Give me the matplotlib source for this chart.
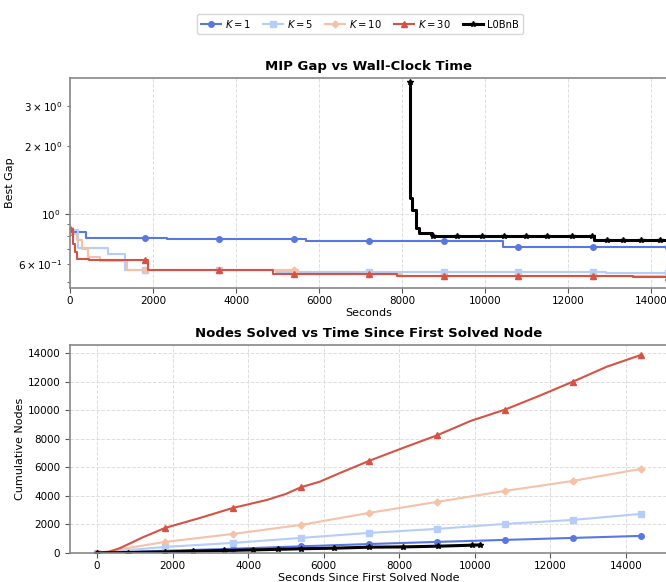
import numpy as np
import matplotlib
matplotlib.use("Agg")
import matplotlib.pyplot as plt

# ---- MIP gap (step curves), change points
k1_t = [0, 385, 2335, 5683, 10419, 14400]
k1_gap = [0.832, 0.783, 0.776, 0.763, 0.718, 0.718]
k5_t = [0, 200, 915, 1325, 4950, 12900, 14400]
k5_gap = [0.85, 0.706, 0.665, 0.566, 0.557, 0.552, 0.552]
k10_t = [0, 60, 170, 290, 435, 720, 1365, 5500, 8000, 14400]
k10_gap = [0.86, 0.82, 0.768, 0.70, 0.645, 0.623, 0.566, 0.545, 0.535, 0.535]
k30_t = [0, 65, 120, 175, 450, 1880, 4900, 7870, 13560, 14400]
k30_gap = [0.86, 0.742, 0.68, 0.637, 0.626, 0.566, 0.543, 0.535, 0.530, 0.530]
l0_t = [8187, 8195, 8242, 8324, 8403, 8723, 12620, 14400]
l0_gap = [3.82, 1.173, 1.041, 0.870, 0.827, 0.800, 0.768, 0.768]

k_mark_t = [0, 1800, 3600, 5400, 7200, 9000, 10800, 12600, 14400]
l0_mark_t = [8187, 8741, 9311, 9928, 10450, 10973, 11493, 12080, 12561,
             12922, 13307, 13749, 14206]

# ---- cumulative nodes since first solved node
k1_nt = [0, 1800, 3600, 5400, 7200, 9000, 10800, 12600, 14400]
k1_nodes = [0, 150, 290, 460, 620, 770, 910, 1050, 1190]
k5_nt = [0, 1800, 3600, 5400, 7200, 9000, 10800, 12600, 14400]
k5_nodes = [0, 420, 700, 1050, 1400, 1680, 2030, 2310, 2730]
k10_nt = [0, 900, 1800, 3600, 5400, 7200, 9000, 10800, 12600, 14400]
k10_nodes = [0, 380, 770, 1330, 1960, 2800, 3570, 4340, 5040, 5880]
k30_nt = [0, 300, 600, 900, 1200, 1800, 2700, 3600, 4500, 5000, 5400, 5900,
          6400, 7200, 8100, 9000, 9900, 10800, 11700, 12600, 13500, 14400]
k30_nodes = [0, 60, 330, 700, 1080, 1750, 2430, 3150, 3710, 4130, 4600, 4990,
             5560, 6440, 7350, 8230, 9250, 10030, 10990, 11990, 13040, 13860]
l0_nt = [0, 814, 1790, 2543, 3367, 4138, 4803, 5399, 6280, 7200, 8100, 9030,
         9930, 10150]
l0_nodes = [0, 25, 70, 120, 170, 210, 250, 290, 330, 400, 420, 470, 540, 560]

labels = ['$K = 1$', '$K = 5$', '$K = 10$', '$K = 30$', 'L0BnB']
colors = list(plt.cm.coolwarm(np.linspace(0.1, 0.9, 4))) + ['black']
markers = ['o', 's', 'D', '^', '*']

plt.rcParams['font.size'] = 8
plt.rcParams['xtick.labelsize'] = 7.5
plt.rcParams['ytick.labelsize'] = 7.5
plt.rcParams['xtick.major.pad'] = 2.5
plt.rcParams['axes.edgecolor'] = '#888888'
plt.rcParams['xtick.color'] = '#555555'
plt.rcParams['ytick.color'] = '#555555'
plt.rcParams['xtick.labelcolor'] = 'black'
plt.rcParams['ytick.labelcolor'] = 'black'


def with_marks(t, v, mark_t):
    # add the marker times to a step series so markevery can hit them
    t = np.asarray(t, float)
    v = np.asarray(v, float)
    tt = np.union1d(t, mark_t)
    vv = v[np.searchsorted(t, tt, side='right') - 1]
    idx = [i for i, x in enumerate(tt) if x in mark_t]
    return tt, vv, idx


fig = plt.figure(figsize=(6.66, 5.82), dpi=100)
ax1 = fig.add_axes([0.105, 0.505, 0.898, 0.361])
ax2 = fig.add_axes([0.105, 0.050, 0.898, 0.357])

gap_series = [(k1_t, k1_gap, k_mark_t), (k5_t, k5_gap, k_mark_t),
              (k10_t, k10_gap, k_mark_t), (k30_t, k30_gap, k_mark_t),
              (l0_t, l0_gap, l0_mark_t)]
for i, (t, g, mt) in enumerate(gap_series):
    tt, vv, idx = with_marks(t, g, mt)
    lw = 2.2 if i == 4 else 1.5
    ax1.plot(tt, vv, drawstyle='steps-post', color=colors[i], lw=lw,
             marker=markers[i], markersize=4 if i != 2 else 3.5,
             markevery=idx, label=labels[i])

ax1.set_yscale('log')
ax1.set_xlim(0, 14400)
ax1.set_ylim(0.472, 3.98)
ax1.set_title('MIP Gap vs Wall-Clock Time', fontweight='bold', fontsize=9.5)
ax1.set_xlabel('Seconds', labelpad=1)
ax1.set_ylabel('Best Gap', labelpad=2)
ax1.grid(True, which='major', ls='--', color='#dddddd', lw=0.7)

node_series = [(k1_nt, k1_nodes), (k5_nt, k5_nodes), (k10_nt, k10_nodes),
               (k30_nt, k30_nodes), (l0_nt, l0_nodes)]
for i, (t, n) in enumerate(node_series):
    if i == 4:
        idx = list(range(len(t)))
    else:
        idx = [j for j, x in enumerate(t) if x % 1800 == 0]
    lw = 2.2 if i == 4 else 1.5
    ax2.plot(t, n, color=colors[i], lw=lw, marker=markers[i],
             markersize=4 if i != 2 else 3.5, markevery=idx)

ax2.set_ylim(0, 14550)
ax2.set_title('Nodes Solved vs Time Since First Solved Node', fontweight='bold',
              fontsize=9.5)
ax2.set_xlabel('Seconds Since First Solved Node', labelpad=1)
ax2.set_ylabel('Cumulative Nodes', labelpad=2)
ax2.grid(True, ls='--', color='#dddddd', lw=0.7)

for ax in (ax1, ax2):
    for s in ax.spines.values():
        s.set_linewidth(1.2)

fig.legend(*ax1.get_legend_handles_labels(), loc='center',
           bbox_to_anchor=(0.54, 0.959), ncol=5, fontsize=7.2,
           handlelength=2.0, handletextpad=0.4, columnspacing=1.2)

fig.savefig('out.png', dpi=100)
